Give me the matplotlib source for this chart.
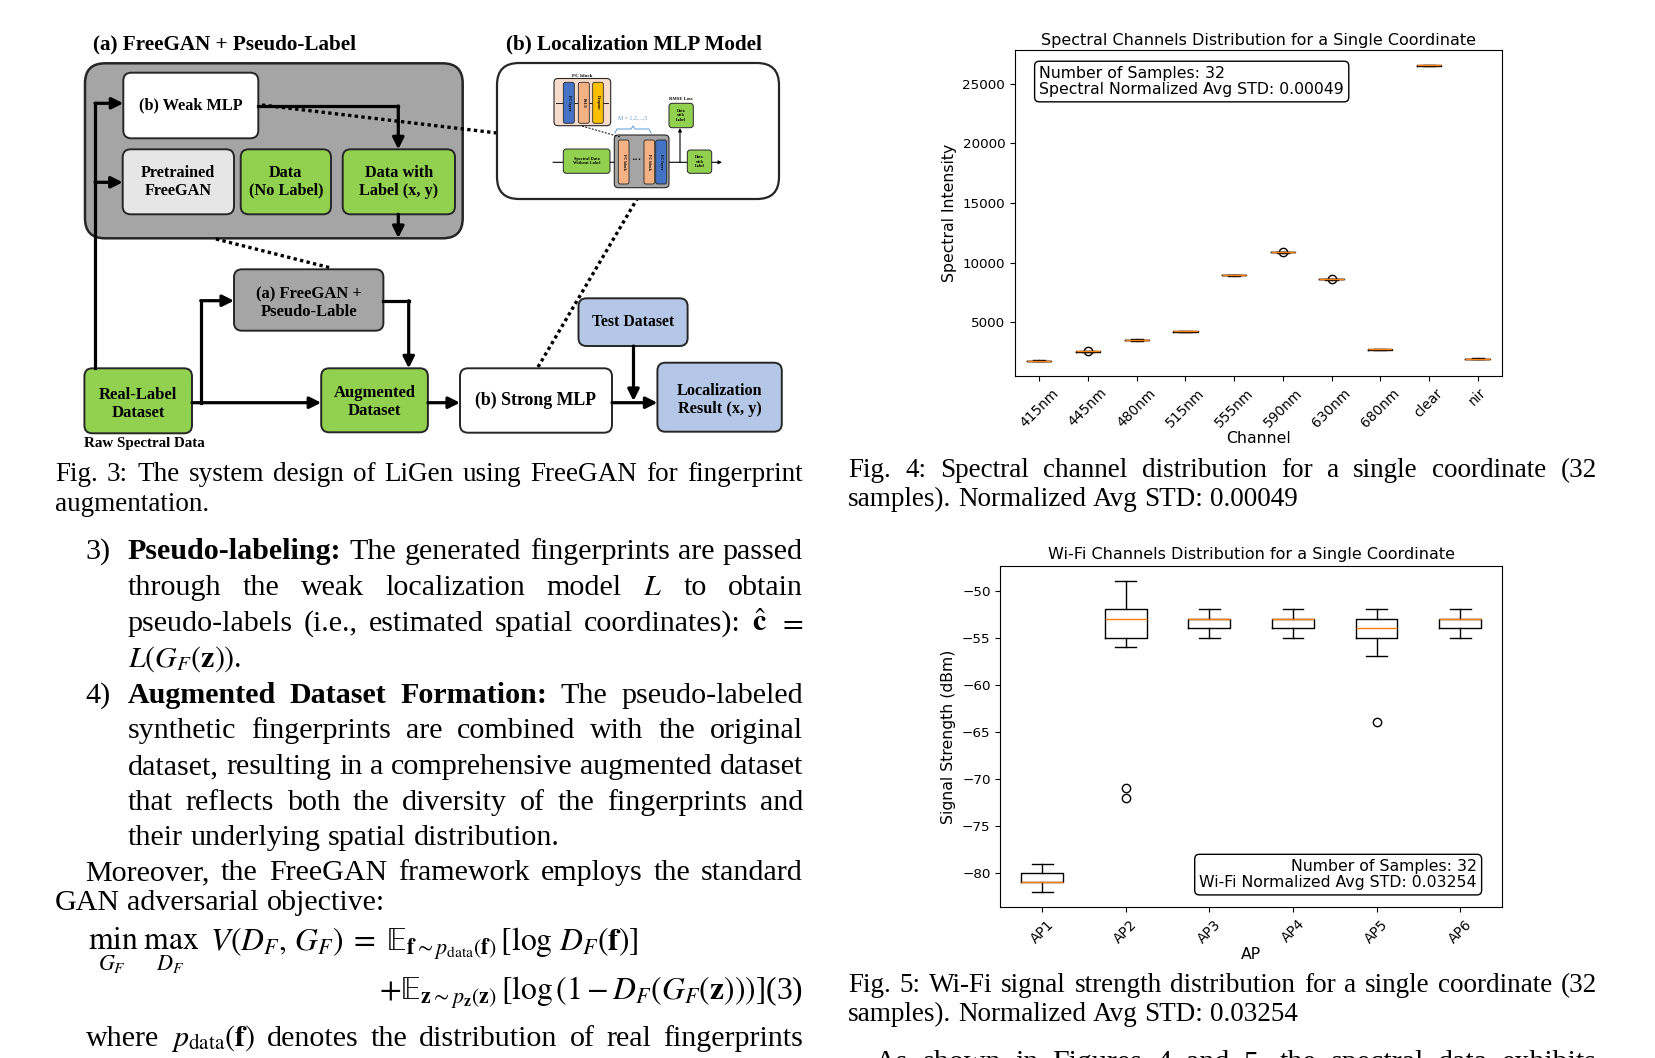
import matplotlib
matplotlib.use("Agg")
import matplotlib.pyplot as plt
from matplotlib.patches import FancyBboxPatch

# ---- Fig. 4: spectral channels at one coordinate
channels = ["415nm", "445nm", "480nm", "515nm", "555nm", "590nm", "630nm", "680nm", "clear", "nir"]
spec_med = [1750, 2560, 3510, 4220, 8950, 10880, 8610, 2730, 26560, 1920]
spec_q1 = [1725, 2535, 3485, 4195, 8925, 10855, 8585, 2705, 26535, 1895]
spec_q3 = [1775, 2585, 3535, 4245, 8975, 10905, 8635, 2755, 26585, 1945]
spec_lo = [1700, 2510, 3460, 4170, 8900, 10830, 8560, 2680, 26510, 1870]
spec_hi = [1800, 2610, 3560, 4270, 9000, 10930, 8660, 2780, 26610, 1970]
spec_fliers = [[], [2560], [], [], [], [10880], [8610], [], [], []]

# ---- Fig. 5: wifi RSSI at one coordinate
aps = ["AP1", "AP2", "AP3", "AP4", "AP5", "AP6"]
wifi_med = [-81, -53, -53, -53, -54, -53]
wifi_q1 = [-81, -55, -54, -54, -55, -54]
wifi_q3 = [-80, -52, -53, -53, -53, -53]
wifi_lo = [-82, -56, -55, -55, -57, -55]
wifi_hi = [-79, -49, -52, -52, -52, -52]
wifi_fliers = [[], [-71, -72], [], [], [-64], []]

SERIF = "Liberation Serif"
GREEN = "#92d050"
BLUE = "#b4c7e7"
GRAY = "#a5a5a5"
LIGHT = "#e7e6e6"
BODY = 21.6
CAP = 19.5

plt.rcParams["mathtext.fontset"] = "stix"

fig = plt.figure(figsize=(16.56, 10.58), dpi=100)
page = fig.add_axes([0, 0, 1, 1])
page.set_xlim(0, 1656)
page.set_ylim(1058, 0)
page.axis("off")
renderer = fig.canvas.get_renderer()


def box(x0, y0, x1, y1, color, r=8, lw=1.4, ec="#262626", z=2):
    page.add_patch(FancyBboxPatch((x0, y0), x1 - x0, y1 - y0,
                                  boxstyle=f"round,pad=0,rounding_size={r}",
                                  fc=color, ec=ec, lw=lw, zorder=z))


def label(x, y, s, size=11.7, **kw):
    page.text(x, y, s, fontsize=size, family=SERIF, fontweight="bold",
              ha="center", va="center", zorder=5, linespacing=1.15, **kw)


def arrow(pts, lw=2.3, ms=17, z=3):
    if len(pts) > 2:
        xs, ys = zip(*pts[:-1])
        page.plot(xs, ys, color="k", lw=lw, solid_capstyle="projecting", zorder=z)
    page.annotate("", xy=pts[-1], xytext=pts[-2], zorder=z,
                  arrowprops=dict(arrowstyle="-|>", lw=lw, color="k",
                                  shrinkA=0, shrinkB=0, mutation_scale=ms))


def dotted(p0, p1, lw=2.4):
    page.plot([p0[0], p1[0]], [p0[1], p1[1]], color="k", lw=lw, ls=(0, (1, 1)), zorder=1)


def split_words(s):
    out, cur, inmath = [], "", False
    for ch in s:
        if ch == "$":
            inmath = not inmath
        if ch == " " and not inmath:
            if cur:
                out.append(cur)
            cur = ""
        else:
            cur += ch
    if cur:
        out.append(cur)
    return out


def put_words(s, x0, y, size, x1=None, nbold=0):
    arts = []
    for i, tok in enumerate(split_words(s)):
        arts.append(page.text(0, y, tok, fontsize=size, family=SERIF,
                              fontweight="bold" if i < nbold else "normal",
                              va="baseline", ha="left"))
    widths = [a.get_window_extent(renderer).width for a in arts]
    if x1 is None or len(arts) < 2:
        gap = 0.25 * size * 100 / 72
    else:
        gap = (x1 - x0 - sum(widths)) / (len(arts) - 1)
    x = x0
    for a, w in zip(arts, widths):
        a.set_x(x)
        x += w + gap


# ================= Fig. 3 diagram =================
page.text(93, 44, "(a) FreeGAN + Pseudo-Label", fontsize=15.2, family=SERIF,
          fontweight="bold", ha="left", va="center")
page.text(506, 44, "(b) Localization MLP Model", fontsize=15.2, family=SERIF,
          fontweight="bold", ha="left", va="center")

box(85, 63.3, 462.7, 238.3, GRAY, r=20, lw=1.8, z=1)
box(123.3, 72.7, 258.3, 138.3, "white")
box(122.7, 149.3, 234, 214.3, LIGHT)
box(240.7, 149.3, 331, 214.3, GREEN)
box(342.7, 149.3, 455, 214.3, GREEN)
label(190.8, 105.5, "(b) Weak MLP")
label(178.3, 181.8, "Pretrained\nFreeGAN")
label(285.8, 181.8, "Data\n(No Label)")
label(398.8, 181.8, "Data with\nLabel (x, y)")

box(234, 269.3, 383.4, 330.7, GRAY)
box(84.4, 368.3, 192, 433.3, GREEN)
box(321.2, 368.3, 427.9, 432.3, GREEN)
box(460, 368.3, 612, 432.7, "white")
box(578.5, 298.3, 687.6, 346, BLUE)
box(657.4, 362.7, 781.8, 431.7, BLUE)
label(308.7, 303.5, "(a) FreeGAN +\nPseudo-Lable", 12)
label(138.2, 404, "Real-Label\nDataset", 12)
label(374.5, 401.7, "Augmented\nDataset", 12)
label(536, 400.7, "(b) Strong MLP", 12.8)
label(633, 322.3, "Test Dataset", 11.3)
label(719.6, 400.3, "Localization\nResult (x, y)", 11.7)
label(144, 444, "Raw Spectral Data", 10.8)

page.plot([95, 95], [368.3, 103.3], color="k", lw=2.3, zorder=3)
arrow([(95, 103.3), (123.3, 103.3)])
arrow([(95, 182.3), (122.7, 182.3)])
arrow([(258.3, 106), (398.3, 106), (398.3, 149.3)])
arrow([(398.3, 214.3), (398.3, 238)])
arrow([(192, 402.7), (321.2, 402.7)])
arrow([(200.7, 402.7), (200.7, 300.7), (234, 300.7)])
arrow([(383.4, 300.7), (408.7, 300.7), (408.7, 368.3)])
arrow([(427.9, 402.7), (460, 402.7)])
arrow([(612, 402.7), (657.4, 402.7)])
arrow([(633.5, 346), (633.5, 401)])

dotted((262, 105), (497, 133))
dotted((216, 239), (331, 268))
dotted((538, 367), (637, 199))

# inset: localization MLP sketch
box(497, 63, 779, 199, "white", r=22, lw=1.6)
page.text(582, 76, "FC block", fontsize=3.8, family=SERIF, fontweight="bold",
          ha="center", va="center", zorder=6)
box(554, 78.5, 610.7, 125.7, "#f8dccb", r=4, lw=0.8)
page.plot([556, 608], [103.3, 103.3], color="k", lw=0.6, zorder=3)
for bx0, bx1, col, name in [(563.3, 574.3, "#4472c4", "FC layer"),
                            (578.3, 589.3, "#f4b183", "ReLU"),
                            (592.7, 603.3, "#ffc000", "Dropout")]:
    box(bx0, 82.3, bx1, 123.3, col, r=2, lw=0.6, z=4)
    page.text((bx0 + bx1) / 2, 102.8, name, fontsize=3, family=SERIF, fontweight="bold",
              rotation=-90, ha="center", va="center", zorder=6)
page.text(633, 117.5, "M = 1,2,...,5", fontsize=4.2, family=SERIF, color="#5b9bd5",
          ha="center", va="center")
page.plot([615, 617, 631, 633, 635, 649, 651], [133, 129, 129, 126, 129, 129, 133],
          color="#5b9bd5", lw=0.7)
page.plot([582, 620], [126, 137], color="k", lw=0.7, ls=(0, (2, 1.5)), zorder=3)
page.annotate("", xy=(722, 162.3), xytext=(553, 162.3), zorder=2,
              arrowprops=dict(arrowstyle="-|>", lw=0.8, color="k", shrinkA=0, shrinkB=0,
                              mutation_scale=5))
page.annotate("", xy=(680, 128), xytext=(680, 162.3), zorder=2,
              arrowprops=dict(arrowstyle="-|>", lw=0.8, color="k", shrinkA=0, shrinkB=0,
                              mutation_scale=5))
box(614.3, 135, 669, 187.7, GRAY, r=4, lw=0.8)
for bx0, bx1, col, name in [(618.3, 629, "#f4b183", "FC block"),
                            (644, 654.7, "#f4b183", "FC block"),
                            (655.7, 666.7, "#4472c4", "FC layer")]:
    box(bx0, 140, bx1, 184, col, r=2, lw=0.6, z=4)
    page.text((bx0 + bx1) / 2, 162, name, fontsize=3, family=SERIF, fontweight="bold",
              rotation=-90, ha="center", va="center", zorder=6)
page.text(636.5, 160, "\u2022\u2022\u2022", fontsize=4, ha="center", va="center", zorder=6)
box(563.3, 149, 610, 173.3, GREEN, r=3, lw=0.7, z=4)
page.text(586.6, 161.2, "Spectral Data\nWithout Label", fontsize=3.2, family=SERIF,
          fontweight="bold", ha="center", va="center", zorder=6)
box(669, 103.3, 693.3, 127.7, GREEN, r=3, lw=0.7, z=4)
page.text(681.2, 115.5, "Data\nwith\nLabel", fontsize=3, family=SERIF,
          fontweight="bold", ha="center", va="center", zorder=6)
page.text(681, 98.5, "RMSE Loss", fontsize=3.3, family=SERIF, fontweight="bold",
          ha="center", va="center")
box(687.3, 150, 711.7, 173.3, GREEN, r=3, lw=0.7, z=4)
page.text(699.5, 161.7, "Data\nwith\nLabel", fontsize=3, family=SERIF,
          fontweight="bold", ha="center", va="center", zorder=6)

# ================= left column text =================
put_words("Fig. 3: The system design of LiGen using FreeGAN for fingerprint", 55, 481, CAP, 803)
put_words("augmentation.", 55, 511, CAP)

page.text(85.5, 559, "3)", fontsize=BODY, family=SERIF, va="baseline")
put_words("Pseudo-labeling: The generated fingerprints are passed", 127.8, 559, BODY, 803, nbold=1)
put_words("through the weak localization model $L$ to obtain", 127.8, 595, BODY, 803)
put_words(r"pseudo-labels (i.e., estimated spatial coordinates): $\hat{\mathbf{c}}$ $=$",
          127.8, 631, BODY, 803)
put_words(r"$L\left(G_F(\mathbf{z})\right)$.", 127.8, 667, BODY)

page.text(85.5, 703, "4)", fontsize=BODY, family=SERIF, va="baseline")
put_words("Augmented Dataset Formation: The pseudo-labeled", 127.8, 703, BODY, 803, nbold=3)
put_words("synthetic fingerprints are combined with the original", 127.8, 738.5, BODY, 803)
put_words("dataset, resulting in a comprehensive augmented dataset", 127.8, 774, BODY, 803)
put_words("that reflects both the diversity of the fingerprints and", 127.8, 809.5, BODY, 803)
put_words("their underlying spatial distribution.", 127.8, 845, BODY)

put_words("Moreover, the FreeGAN framework employs the standard", 85.5, 880, BODY, 803)
put_words("GAN adversarial objective:", 55, 909.5, BODY)

EQ = 22.8
page.text(88, 950, "$\\min_{G_F}\\;\\max_{D_F}\\;\\; V(D_F,\\, G_F) \\;=\\; \U0001D53C_{\\mathbf{f}\\sim p_{\\mathrm{data}}(\\mathbf{f})}\\,[\\log\\, D_F(\\mathbf{f})]$",
          fontsize=EQ, family=SERIF, va="baseline", ha="left")
page.text(803, 1000, "$+\U0001D53C_{\\mathbf{z}\\sim p_{\\mathbf{z}}(\\mathbf{z})}\\,[\\log\\left(1 - D_F\\left(G_F(\\mathbf{z})\\right)\\right)]$(3)",
          fontsize=EQ, family=SERIF, va="baseline", ha="right")
put_words(r"where $p_{\mathrm{data}}(\mathbf{f})$ denotes the distribution of real fingerprints",
          85.5, 1046, BODY, 803)

# ================= right column captions =================
put_words("Fig. 4: Spectral channel distribution for a single coordinate (32", 848, 477, CAP, 1597)
put_words("samples). Normalized Avg STD: 0.00049", 848, 506, CAP)
put_words("Fig. 5: Wi-Fi signal strength distribution for a single coordinate (32", 848, 992, CAP, 1597)
put_words("samples). Normalized Avg STD: 0.03254", 848, 1021, CAP)
# last body line, cut off by the page edge as in the screenshot
put_words("As shown in Figures 4 and 5, the spectral data exhibits", 875, 1070, BODY, 1597)


# ================= box plots =================
def make_stats(med, q1, q3, lo, hi, fl):
    return [dict(med=m, q1=a, q3=b, whislo=c, whishi=d, fliers=f)
            for m, a, b, c, d, f in zip(med, q1, q3, lo, hi, fl)]


ax1 = fig.add_axes([0.6129, 0.6446, 0.2941, 0.3085])
ax1.bxp(make_stats(spec_med, spec_q1, spec_q3, spec_lo, spec_hi, spec_fliers))
ax1.set_xticks(range(1, len(channels) + 1))
ax1.set_xticklabels(channels, rotation=45, fontsize=9.9)
ax1.tick_params(axis="y", labelsize=9.7)
ax1.set_ylim(480, 27880)
ax1.set_title("Spectral Channels Distribution for a Single Coordinate", fontsize=11.5, pad=3.5)
ax1.set_xlabel("Channel", fontsize=11.3, labelpad=1)
ax1.set_ylabel("Spectral Intensity", fontsize=11.3)
ax1.text(0.05, 0.95, "Number of Samples: 32\nSpectral Normalized Avg STD: 0.00049",
         transform=ax1.transAxes, ha="left", va="top", fontsize=11.3, linespacing=1.1,
         bbox=dict(boxstyle="round", facecolor="white", edgecolor="black"))

ax2 = fig.add_axes([0.6041, 0.14244, 0.3029, 0.3229])
ax2.bxp(make_stats(wifi_med, wifi_q1, wifi_q3, wifi_lo, wifi_hi, wifi_fliers))
ax2.set_xticks(range(1, len(aps) + 1))
ax2.set_xticklabels(aps, rotation=45, fontsize=9.9)
ax2.tick_params(axis="y", labelsize=9.7)
ax2.set_ylim(-83.65, -47.35)
ax2.set_title("Wi-Fi Channels Distribution for a Single Coordinate", fontsize=11.5, pad=4.5)
ax2.set_xlabel("AP", fontsize=11.3, labelpad=1)
ax2.set_ylabel("Signal Strength (dBm)", fontsize=11.3)
ax2.text(0.95, 0.05, "Number of Samples: 32\nWi-Fi Normalized Avg STD: 0.03254",
         transform=ax2.transAxes, ha="right", va="bottom", fontsize=11.3, linespacing=1.1,
         multialignment="right",
         bbox=dict(boxstyle="round", facecolor="white", edgecolor="black"))

fig.savefig("out.png", dpi=100)
